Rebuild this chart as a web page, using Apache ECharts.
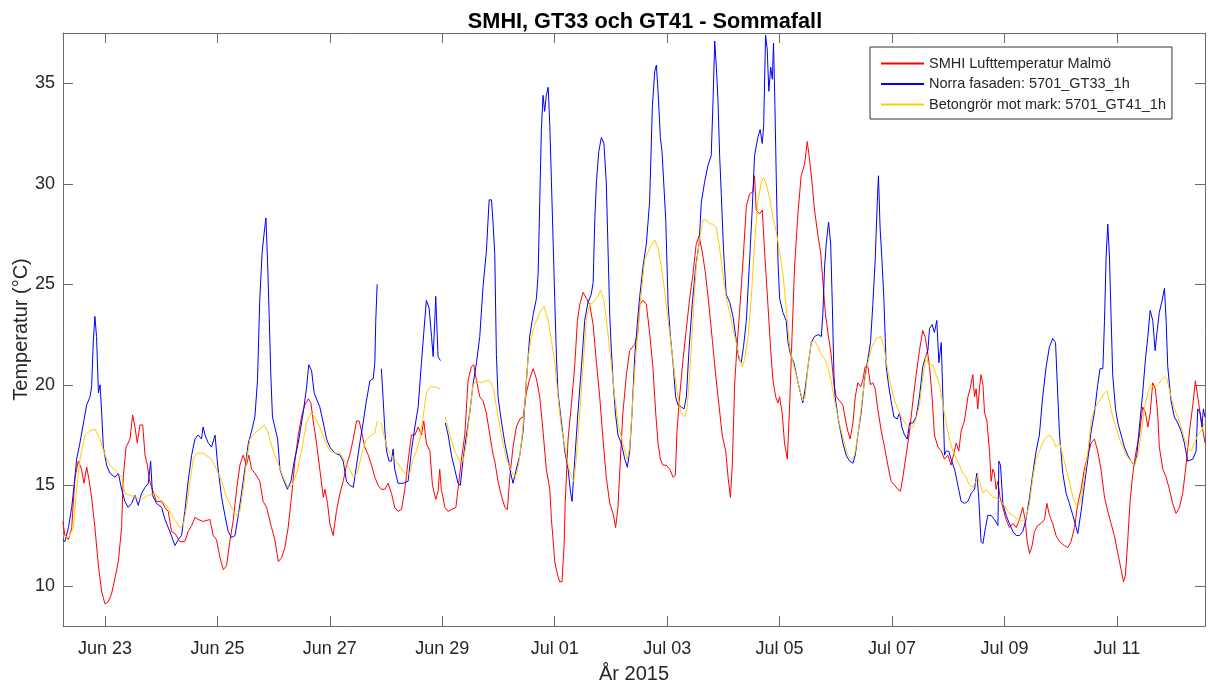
<!DOCTYPE html>
<html>
<head>
<meta charset="utf-8">
<title>SMHI, GT33 och GT41 - Sommafall</title>
<script src="https://cdn.jsdelivr.net/npm/echarts@6.0.0/dist/echarts.min.js"></script>
<style>
  html, body { margin: 0; padding: 0; background: #fff; }
  #chart { width: 1208px; height: 688px; }
</style>
</head>
<body>
<div id="chart"></div>
<script>
// Time is given in hours counted from 2015-06-22 00:00.
const tickHours = [24, 72, 120, 168, 216, 264, 312, 360, 408, 456];
const tickLabels = ['Jun 23', 'Jun 25', 'Jun 27', 'Jun 29', 'Jul 01', 'Jul 03', 'Jul 05', 'Jul 07', 'Jul 09', 'Jul 11'];
const yTicks = [10, 15, 20, 25, 30, 35];
const seriesNames = ['SMHI Lufttemperatur Malmö', 'Norra fasaden: 5701_GT33_1h', 'Betongrör mot mark: 5701_GT41_1h'];

// SMHI air temperature, Malmö  [hour, °C]
const smhi = [
  [6.0,13.2],[6.9,12.5],[8.4,12.3],[9.8,12.9],[11.2,15.4],[12.6,16.2],[14.0,15.8],[15.0,15.1],[16.2,15.9],[17.3,15.2],[18.3,14.4],[19.7,12.9],[21.2,11.0],[22.6,9.7],[24.0,9.1],[25.4,9.2],[26.8,9.6],[28.3,10.4],[29.7,11.2],[31.1,12.9],[31.8,15.4],[33.0,16.9],[34.7,17.3],[35.8,18.5],[36.8,17.9],[37.8,17.1],[38.9,18.0],[40.1,18.0],[41.1,16.5],[42.1,16.0],[42.9,15.3],[43.9,14.9],[46.0,14.2],[48.2,14.2],[49.6,13.9],[51.0,13.7],[52.4,12.7],[53.9,12.6],[56.0,12.2],[58.1,12.2],[59.5,12.7],[61.0,13.0],[62.4,13.4],[63.8,13.3],[65.9,13.2],
  [68.8,13.3],[70.2,12.5],[71.6,12.3],[73.1,11.4],[74.5,10.8],[75.9,11.0],[77.3,12.2],[78.8,13.3],[80.2,14.8],[81.6,16.0],[83.0,16.5],[84.4,16.0],[85.4,16.5],[86.6,15.8],[88.0,15.6],[90.1,15.2],[91.5,14.2],[93.0,13.9],[95.1,12.9],[96.5,12.3],[98.0,11.2],[99.4,11.4],[100.8,11.9],[102.2,12.9],[103.6,14.4],[105.1,16.2],[106.5,17.5],[107.9,18.4],[109.3,19.0],[110.8,19.3],[111.9,19.1],[112.9,18.2],[114.3,17.1],[115.7,15.8],[117.2,14.4],[117.9,14.8],[119.0,14.1],[120.0,13.1],[121.4,12.5],[122.8,13.7],[124.3,14.6],[125.7,15.2],[127.1,16.0],
  [128.5,16.5],[130.0,17.3],[131.4,18.2],[132.5,18.2],[133.5,17.7],[134.9,16.9],[136.4,16.5],[137.8,16.0],[139.2,15.4],[140.6,15.0],[142.0,14.8],[143.5,14.8],[144.9,15.1],[146.3,14.6],[147.7,13.9],[149.1,13.7],[150.6,13.8],[152.0,14.8],[153.4,16.2],[154.8,17.5],[156.3,17.5],[157.7,17.9],[159.1,17.5],[160.1,18.2],[161.2,17.1],[162.7,16.7],[163.8,15.0],[165.2,14.3],[166.2,14.7],[166.9,15.8],[167.6,14.8],[169.1,13.9],[170.5,13.7],[171.9,13.8],[173.8,13.9],[174.7,14.8],[176.2,16.3],[177.6,17.5],[179.0,20.2],[180.4,20.9],[181.4,21.0],[182.6,20.2],[184.0,19.4],[185.4,19.2],[186.8,18.6],[188.3,17.5],[189.7,16.5],
  [190.4,16.2],[191.8,15.2],[193.2,14.5],[194.7,13.9],[195.8,13.8],[196.8,15.4],[198.2,16.9],[199.6,17.9],[201.1,18.3],[202.5,18.4],[203.9,19.6],[205.3,20.3],[206.8,20.8],[208.2,20.3],[209.6,19.4],[211.0,17.7],[212.4,15.8],[213.9,14.8],[214.6,13.3],[215.3,12.3],[216.0,11.2],[217.1,10.6],[218.1,10.2],[219.1,10.2],[220.0,12.0],[220.5,14.2],[221.7,17.3],[223.1,19.0],[224.5,20.9],[225.7,23.2],[226.7,24.0],[228.1,24.6],[229.5,24.3],[230.9,24.0],[232.4,23.0],[233.8,21.1],[235.2,19.4],[236.6,17.3],[238.0,15.4],[239.5,14.1],[240.9,13.6],[242.0,12.9],[243.0,13.9],[244.2,16.7],[245.1,18.6],[246.6,20.5],[248.0,21.7],[250.1,22.0],[251.5,22.6],
  [252.3,24.0],[253.7,24.2],[255.1,24.0],[256.5,22.6],[257.9,20.9],[259.1,18.6],[260.1,17.1],[261.1,16.3],[262.2,16.0],[263.6,16.0],[265.1,15.8],[266.5,15.4],[267.5,15.5],[268.2,17.7],[269.3,19.4],[270.8,21.3],[272.2,22.8],[273.6,24.3],[275.0,25.5],[276.4,27.0],[277.6,27.4],[279.0,26.6],[280.4,25.5],[281.8,24.0],[283.3,22.2],[284.7,20.5],[286.1,19.0],[287.5,17.5],[289.0,16.7],[290.0,15.4],[291.0,14.4],[291.8,16.0],[292.8,20.0],[293.8,21.9],[294.9,23.6],[296.4,26.2],[297.8,28.9],[299.2,29.5],[300.6,29.6],[301.3,30.4],[302.0,28.7],[303.5,28.5],[304.6,28.7],[305.6,26.6],[307.0,24.0],[308.2,21.7],[309.2,20.2],[310.3,19.4],[311.3,19.1],[312.0,19.4],[313.1,18.6],
  [314.1,17.1],[315.3,16.3],[316.3,19.0],[317.3,22.4],[318.4,25.9],[319.8,28.5],[321.2,30.4],[322.7,31.0],[323.8,32.1],[324.8,31.2],[325.8,30.1],[326.9,28.7],[328.4,27.4],[329.5,26.6],[330.5,25.1],[331.5,23.6],[332.6,22.6],[334.0,21.5],[335.2,20.0],[336.2,19.4],[337.6,19.2],[339.0,19.0],[340.2,18.2],[341.1,17.7],[342.1,17.3],[343.3,18.1],[344.3,19.4],[345.4,20.1],[346.6,19.9],[347.5,20.2],[348.5,20.9],[349.7,20.9],[350.8,20.0],[351.8,20.1],[352.8,19.8],[353.9,18.8],[355.4,17.7],[356.8,16.9],[358.2,16.0],[359.6,15.2],[361.1,15.0],[362.5,14.8],[363.6,14.7],[364.6,15.4],[366.0,16.5],[367.5,17.7],[368.9,19.2],[370.3,20.5],[371.7,21.7],[373.1,22.7],[374.1,22.4],[375.3,21.5],
  [376.0,20.9],[377.1,19.4],[378.1,17.5],[379.6,16.9],[381.0,16.7],[382.4,16.3],[383.8,16.5],[385.2,16.0],[386.2,16.5],[387.4,17.1],[388.5,16.7],[389.5,17.7],[390.9,18.2],[392.4,19.4],[393.3,19.8],[394.5,20.5],[395.2,19.4],[395.9,19.8],[396.6,18.8],[397.3,19.8],[398.0,20.5],[398.8,20.0],[399.5,18.6],[400.5,18.2],[401.6,16.7],[402.3,15.2],[403.0,15.8],[403.7,15.6],[404.4,14.8],[405.2,15.2],[406.1,14.4],[407.3,13.9],[408.7,13.3],[410.1,12.9],[411.6,13.1],[413.0,12.9],[414.4,13.3],[415.8,13.9],[416.8,13.3],[417.7,12.2],[418.7,11.6],[419.8,12.0],[420.8,12.7],[422.2,13.0],[423.6,13.1],[425.1,13.3],[426.1,14.1],[427.2,13.5],[428.6,13.1],[430.0,12.5],
  [431.5,12.2],[433.6,12.0],[435.0,11.9],[436.4,12.2],[437.9,12.9],[439.3,14.1],[440.7,14.8],[442.1,15.8],[443.6,16.5],[445.0,17.1],[446.4,17.3],[447.8,16.7],[449.2,15.8],[450.7,14.4],[452.1,13.7],[453.5,13.1],[454.9,12.5],[456.4,11.6],[457.8,10.8],[458.8,10.2],[459.6,10.5],[460.6,12.2],[461.6,14.2],[462.8,15.6],[464.2,16.7],[465.6,17.5],[467.0,18.9],[468.2,18.6],[469.2,17.9],[470.2,18.6],[471.3,20.1],[472.4,19.8],[473.4,18.6],[474.1,16.9],[475.6,15.8],[477.0,15.4],[478.4,14.8],[479.8,14.1],[481.2,13.6],[482.7,13.9],[484.1,14.6],[485.5,16.0],[487.0,17.7],[488.4,19.0],[489.5,20.2],[490.5,19.4],[491.5,18.6],[492.3,18.0],[493.6,17.1]
];

// North facade sensor 5701_GT33  [hour, °C]
const gt33 = [
  [6.0,12.3],[6.9,12.2],[8.4,12.9],[9.8,13.9],[11.2,15.4],[11.9,16.3],[13.3,17.1],[14.8,18.1],[16.2,19.0],[17.6,19.4],[18.3,19.9],[19.0,22.1],[19.7,23.4],[20.4,22.4],[21.2,19.6],[21.9,20.0],[22.6,18.6],[23.3,16.9],[24.7,16.0],[26.1,15.6],[28.3,15.4],[29.7,15.6],[31.1,14.8],[32.5,14.2],[33.9,13.9],[35.4,14.1],[36.8,14.5],[38.2,14.0],[39.6,14.6],[41.1,14.9],[42.5,15.1],[43.5,16.2],[44.3,14.5],[46.0,14.1],[48.2,13.9],[49.6,13.3],[51.7,12.7],[53.9,12.0],[55.3,12.3],[56.7,12.5],[58.1,13.7],[59.5,15.2],[61.0,16.5],[62.4,17.3],[63.8,17.5],[65.2,17.3],[65.9,17.9],
  [66.7,17.5],[68.1,17.1],[69.5,16.9],[71.0,17.5],[72.1,16.0],[73.8,14.4],[75.2,13.5],[76.6,12.7],[78.0,12.4],[79.5,12.5],[80.9,13.5],[82.3,14.6],[83.7,15.8],[85.2,17.1],[86.6,17.7],[88.0,18.4],[89.1,20.2],[90.1,24.3],[91.1,26.6],[92.0,27.6],[92.7,28.3],[93.4,26.2],[94.1,23.4],[94.8,20.5],[95.5,18.4],[96.5,17.9],[97.7,17.3],[98.7,15.8],[100.1,15.3],[101.9,14.8],[103.4,15.2],[104.8,16.2],[106.5,17.1],[108.6,18.6],[110.0,19.8],[111.0,21.0],[112.2,20.7],[113.3,19.6],[114.3,19.3],[115.7,18.9],[117.2,18.1],[118.6,17.3],[120.0,16.9],[122.1,16.6],[124.3,16.5],[125.7,16.2],[127.1,15.2],
  [128.5,15.0],[130.0,14.9],[131.4,16.0],[132.8,17.1],[134.2,18.1],[135.6,19.2],[137.1,20.2],[138.5,20.3],[139.2,21.1],[139.6,23.2],[140.2,25.0],[141.1,null],[142.0,20.8],[142.7,19.4],[143.5,17.7],[144.2,16.7],[145.3,16.2],[146.3,16.2],[147.0,16.8],[147.7,15.8],[149.1,15.1],[151.3,15.1],[153.4,15.2],[154.8,16.7],[156.3,17.9],[157.7,18.9],[159.1,21.1],[160.1,22.6],[161.2,24.2],[162.4,23.8],[163.4,22.4],[164.1,21.4],[164.8,23.2],[165.2,24.4],[165.8,22.6],[166.2,21.4],[167.2,21.2],[168.2,null],[169.3,18.1],[170.5,17.5],[171.9,16.5],[173.3,15.8],[174.7,15.1],[175.7,15.0],[176.9,16.3],[178.3,17.5],[179.7,18.6],[181.1,20.0],[182.6,21.1],[184.0,22.4],[185.4,24.9],[186.8,26.6],[188.0,29.2],[189.0,29.2],[189.7,28.0],
  [190.4,26.5],[191.1,21.5],[191.8,19.4],[193.2,18.2],[194.7,17.1],[196.1,16.3],[197.2,15.6],[198.2,15.1],[199.6,15.8],[201.1,16.5],[202.5,17.7],[203.9,20.2],[205.3,22.4],[206.8,23.5],[208.2,24.3],[208.9,25.5],[209.6,29.1],[210.3,32.7],[211.0,34.4],[211.7,33.6],[212.4,34.4],[213.2,34.8],[213.9,32.9],[214.6,30.1],[215.3,27.2],[216.0,24.3],[216.7,21.5],[217.4,19.6],[218.8,18.2],[220.3,16.7],[221.7,15.8],[222.8,14.6],[223.4,14.2],[224.5,16.2],[225.9,18.6],[227.4,20.9],[228.8,23.2],[230.2,24.1],[231.6,24.5],[232.4,25.1],[233.1,28.2],[233.8,30.1],[234.8,31.6],[235.9,32.3],[237.0,32.0],[238.0,30.1],[238.7,27.0],[239.5,23.4],[240.2,21.7],[240.9,20.2],[241.9,18.6],[243.0,17.5],[244.4,17.1],[245.9,16.3],[247.0,15.9],[248.0,16.7],[249.0,18.6],[250.1,21.3],[251.5,23.4],
  [252.3,24.4],[253.7,25.9],[255.1,27.0],[256.5,29.1],[257.7,33.9],[258.7,35.6],[259.4,35.9],[260.1,34.6],[261.1,32.3],[261.8,31.6],[262.5,31.6],[263.4,28.2],[264.4,24.0],[265.4,22.4],[266.5,21.1],[267.6,19.4],[268.6,19.0],[270.0,18.9],[271.2,18.8],[272.2,19.4],[273.3,21.7],[274.7,24.0],[276.2,25.9],[277.6,27.0],[278.6,29.1],[280.0,30.1],[281.4,30.9],[282.8,31.4],[283.6,34.2],[284.3,37.1],[285.0,35.8],[285.7,34.1],[286.4,31.4],[287.1,29.5],[288.1,26.6],[289.2,24.5],[290.7,24.1],[292.1,23.4],[293.5,22.2],[294.6,21.3],[295.6,21.1],[296.6,21.9],[297.8,23.2],[299.2,26.2],[300.3,28.7],[301.3,31.4],[302.7,32.3],[303.7,32.7],[304.6,32.0],[305.2,32.9],[306.0,37.4],[306.7,36.7],[307.4,34.6],[308.2,35.8],[308.9,35.2],[309.4,37.0],[310.0,33.9],[310.6,30.1],[311.3,26.2],[312.0,24.3],[313.4,23.6],
  [314.8,23.2],[315.6,22.1],[316.7,21.5],[318.1,21.1],[319.5,20.3],[320.9,19.6],[321.9,19.1],[322.9,19.8],[324.1,20.9],[325.5,22.1],[326.9,22.4],[328.4,22.5],[329.8,22.4],[330.5,23.6],[331.2,25.9],[331.9,27.0],[332.9,28.1],[333.8,27.0],[334.5,24.0],[335.2,20.5],[335.7,19.4],[336.9,18.4],[338.0,17.7],[339.0,17.1],[340.4,16.5],[341.9,16.2],[343.3,16.1],[344.3,16.5],[345.4,17.5],[346.8,18.6],[348.3,20.3],[349.7,21.3],[350.8,22.1],[351.8,24.0],[352.8,26.2],[353.7,29.1],[354.2,30.4],[354.9,27.8],[355.7,26.2],[356.5,24.3],[357.5,20.9],[358.5,20.0],[359.6,19.2],[360.8,18.4],[362.2,18.3],[363.2,18.6],[364.2,17.9],[365.3,17.5],[366.5,17.3],[367.5,18.1],[368.9,18.1],[370.3,18.4],[371.7,19.4],[373.1,20.9],[374.6,21.5],[375.3,21.7],
  [376.0,22.8],[377.1,23.0],[378.1,22.6],[379.1,23.2],[380.0,21.1],[381.0,22.1],[381.7,19.4],[382.4,16.5],[383.1,16.7],[384.2,16.7],[385.2,16.3],[386.7,15.8],[388.1,15.0],[389.5,14.2],[390.9,14.1],[392.4,14.2],[393.8,14.6],[395.2,14.8],[396.2,15.6],[397.0,14.4],[398.0,12.2],[398.8,12.1],[399.9,12.9],[400.9,13.5],[402.3,13.5],[403.7,13.3],[405.2,13.0],[405.6,16.2],[406.3,16.0],[407.3,14.1],[408.7,13.5],[410.1,13.1],[411.6,12.7],[413.0,12.5],[414.4,12.5],[415.8,12.7],[417.2,13.3],[418.7,14.4],[420.1,15.6],[421.5,16.7],[422.9,17.5],[424.3,19.4],[425.8,20.9],[427.2,21.9],[428.6,22.3],[429.8,22.1],[430.7,19.6],
  [431.5,17.5],[432.9,15.6],[434.3,14.6],[435.7,14.1],[437.2,13.5],[438.6,12.9],[439.3,12.6],[440.7,13.7],[442.1,15.0],[443.6,16.3],[445.0,17.7],[446.4,18.6],[447.8,20.0],[448.8,20.8],[450.0,20.8],[450.7,23.2],[451.4,26.4],[452.1,28.0],[452.8,26.4],[453.5,23.4],[454.2,20.5],[455.4,18.8],[456.4,18.1],[457.8,17.5],[459.2,16.9],[460.6,16.5],[462.0,16.2],[463.5,16.0],[464.5,16.5],[465.6,17.9],[467.0,19.6],[468.2,21.3],[469.2,22.4],[470.2,23.7],[471.3,23.2],[472.3,21.7],[473.1,22.6],[474.1,23.6],[475.3,24.2],[476.3,24.8],[477.0,23.2],[477.7,20.9],[479.1,19.2],[480.5,18.4],[482.0,18.1],[483.4,17.7],[484.8,17.1],[486.2,16.2],[488.4,16.3],[489.8,16.7],[490.5,18.8],[491.5,18.6],[492.3,17.9],[492.9,18.8],[493.6,18.4]
];

// Concrete pipe towards ground, sensor 5701_GT41  [hour, °C]
const gt41 = [
  [6.0,12.5],[8.4,12.4],[10.5,12.9],[11.9,14.8],[13.3,16.3],[15.5,17.5],[17.6,17.7],[19.7,17.8],[21.9,17.3],[24.0,16.5],[26.1,16.0],[29.0,15.7],[31.1,15.4],[32.5,14.6],[34.7,14.5],[37.5,14.4],[39.6,14.3],[42.5,14.5],[45.3,14.6],[47.5,14.3],[50.3,14.0],[53.1,13.4],[56.0,12.9],[57.4,13.0],[58.8,13.9],[60.3,15.2],[61.7,16.3],[63.1,16.6],[65.9,16.6],
  [66.7,16.6],[69.5,16.3],[71.6,15.8],[73.8,15.2],[75.9,14.4],[78.0,13.9],[80.2,13.5],[81.6,13.7],[83.0,14.8],[84.4,16.2],[85.9,17.3],[88.0,17.6],[90.1,17.8],[92.0,18.0],[93.4,17.7],[94.8,17.1],[96.5,16.5],[98.2,16.0],[100.1,15.4],[102.2,14.9],[103.9,15.0],[105.8,15.6],[107.9,16.7],[110.0,18.1],[111.9,18.6],[113.6,18.4],[115.7,17.9],[117.9,17.2],[120.0,16.7],[122.1,16.6],[124.3,16.6],[126.4,16.2],
  [128.5,15.8],[130.2,15.4],[131.7,15.6],[133.5,16.5],[134.5,16.9],[135.6,17.3],[137.8,17.5],[139.2,17.6],[140.2,18.2],[141.1,null],[142.0,18.1],[143.5,17.3],[144.9,16.7],[146.3,16.5],[148.4,16.2],[150.6,15.8],[152.7,15.5],[154.1,15.6],[155.5,16.3],[157.0,16.7],[158.4,17.3],[159.8,18.4],[161.2,19.6],[162.7,19.9],[164.8,19.9],[166.9,19.8],[168.2,null],[169.3,18.4],[171.2,17.5],[173.3,16.7],[175.5,16.2],[176.9,16.2],[178.3,17.1],[179.7,18.6],[181.1,20.0],[182.6,20.2],[184.7,20.1],[186.8,20.2],[188.3,20.2],[190.0,19.8],
  [190.4,19.4],[191.8,18.4],[193.2,17.5],[195.4,16.3],[197.5,15.7],[199.2,15.4],[200.6,16.0],[202.1,17.5],[203.5,19.4],[204.6,21.3],[206.0,22.4],[207.5,23.0],[209.6,23.6],[211.4,23.9],[213.2,23.2],[214.6,22.2],[216.0,21.1],[217.4,19.4],[218.8,17.9],[220.3,16.9],[221.7,16.0],[223.1,15.4],[224.1,15.2],[225.2,16.3],[226.7,18.6],[228.1,20.9],[229.5,23.2],[230.9,24.0],[232.4,24.1],[233.8,24.3],[235.6,24.7],[237.0,24.2],[238.5,22.8],[239.9,21.3],[241.6,19.4],[243.3,17.9],[245.1,17.1],[247.0,16.3],[248.0,16.9],[249.4,19.4],[250.8,21.7],
  [252.3,23.8],[254.4,26.2],[256.5,26.8],[258.7,27.2],[260.1,26.8],[261.5,25.9],[262.9,24.7],[264.4,23.2],[265.8,21.9],[267.2,20.5],[268.6,19.4],[270.0,18.6],[271.5,18.4],[272.5,18.8],[273.6,20.5],[275.0,23.2],[276.4,25.9],[277.9,27.3],[279.3,28.2],[280.7,28.2],[282.1,28.0],[283.6,28.0],[285.0,27.8],[286.4,26.8],[287.8,25.5],[289.2,24.3],[290.7,23.6],[292.1,22.8],[293.5,22.1],[294.9,21.3],[296.1,20.9],[297.1,21.3],[298.5,22.4],[299.9,24.3],[301.3,27.0],[302.7,29.1],[304.2,30.1],[305.2,30.3],[306.3,30.0],[307.7,29.3],[309.2,28.3],[310.6,27.6],[312.0,26.6],[313.4,25.5],
  [314.1,24.7],[315.3,23.2],[316.3,21.9],[317.7,21.1],[319.1,20.5],[320.5,19.8],[321.9,19.2],[322.9,19.4],[324.1,20.9],[325.5,22.1],[326.9,22.2],[328.4,21.9],[329.8,21.5],[331.2,21.3],[332.6,20.9],[334.0,20.2],[335.5,19.2],[336.9,18.4],[338.3,17.7],[339.7,17.1],[341.1,16.5],[342.6,16.3],[344.0,16.5],[345.4,17.5],[346.8,18.8],[348.3,20.2],[349.7,21.1],[351.4,21.9],[353.2,22.3],[355.1,22.4],[356.5,21.9],[357.9,20.9],[359.4,20.0],[361.1,19.2],[362.5,18.8],[363.9,18.4],[365.6,18.1],[367.0,17.9],[368.9,17.9],[370.3,18.3],[371.7,19.0],[373.1,20.3],[374.6,21.5],[375.3,21.1],
  [376.0,20.9],[377.4,21.0],[378.8,20.5],[380.3,20.0],[381.7,19.0],[383.1,18.1],[384.5,17.3],[386.0,16.7],[387.4,16.3],[388.8,16.0],[390.2,15.6],[391.6,15.4],[393.1,15.0],[394.5,14.9],[395.9,15.2],[396.6,15.5],[397.3,15.2],[398.8,14.6],[400.2,14.8],[401.6,14.6],[403.0,14.4],[404.4,14.4],[405.9,14.2],[407.3,14.1],[409.4,13.7],[411.6,13.5],[413.7,13.3],[415.8,13.2],[417.2,13.4],[418.7,14.1],[420.1,15.4],[421.5,16.3],[422.9,16.7],[424.3,17.1],[425.8,17.4],[427.2,17.5],[428.6,17.3],[430.0,16.9],
  [431.5,17.1],[432.9,16.5],[434.3,15.8],[435.7,15.2],[437.2,14.4],[438.6,14.0],[439.7,14.0],[440.7,14.3],[442.1,15.4],[443.6,16.7],[445.0,18.2],[446.4,18.8],[447.8,19.1],[449.2,19.3],[450.7,19.6],[451.7,19.7],[452.8,19.2],[454.2,18.4],[455.6,17.9],[457.1,17.3],[458.5,16.9],[459.9,16.5],[462.0,16.2],[463.5,16.0],[464.9,16.5],[466.3,17.5],[467.7,18.8],[469.2,19.6],[470.6,20.0],[472.0,19.8],[473.4,20.0],[474.8,20.2],[476.3,20.4],[477.3,20.3],[478.7,19.6],[480.5,18.8],[482.0,18.4],[483.4,17.9],[484.8,17.3],[486.2,16.9],[487.6,16.7],[489.1,17.1],[490.5,17.5],[491.9,17.7],[493.6,18.1]
];

const FONT = '"Liberation Sans", Arial, Helvetica, sans-serif';
const AXIS_COLOR = '#6b6b6b';
const TEXT_COLOR = '#262626';
const X_MIN = 6.08, X_MAX = 493.6;
const Y_MIN = 8, Y_MAX = 37.5;
const colors = ['#ff0000', '#0000ff', '#ffcc00'];
const datasets = [smhi, gt33, gt41];

function xAxisBase(position) {
  return {
    type: 'value', position: position, min: X_MIN, max: X_MAX,
    axisLine: { show: true, onZero: false, lineStyle: { color: AXIS_COLOR, width: 1 } },
    axisTick: { show: true, inside: true, length: 10, customValues: tickHours, lineStyle: { color: AXIS_COLOR, width: 1 } },
    splitLine: { show: false }
  };
}
function yAxisBase(position) {
  return {
    type: 'value', position: position, min: Y_MIN, max: Y_MAX,
    axisLine: { show: true, onZero: false, lineStyle: { color: AXIS_COLOR, width: 1 } },
    axisTick: { show: true, inside: true, length: 10, customValues: yTicks, lineStyle: { color: AXIS_COLOR, width: 1 } },
    splitLine: { show: false }
  };
}

const xBottom = Object.assign(xAxisBase('bottom'), {
  name: 'År 2015', nameLocation: 'middle', nameGap: 38,
  nameTextStyle: { fontFamily: FONT, fontSize: 20, color: TEXT_COLOR },
  axisLabel: {
    show: true, customValues: tickHours, margin: 14,
    fontFamily: FONT, fontSize: 18, color: TEXT_COLOR,
    formatter: function (v) { const i = tickHours.indexOf(Math.round(v)); return i >= 0 ? tickLabels[i] : ''; }
  }
});
const xTop = Object.assign(xAxisBase('top'), { axisLabel: { show: false } });
const yLeft = Object.assign(yAxisBase('left'), {
  name: 'Temperatur (°C)', nameLocation: 'middle', nameGap: 32, nameRotate: 90,
  nameMoveOverlap: false,
  nameTextStyle: { fontFamily: FONT, fontSize: 20, color: TEXT_COLOR },
  axisLabel: { show: true, customValues: yTicks, margin: 8, fontFamily: FONT, fontSize: 18, color: TEXT_COLOR }
});
const yRight = Object.assign(yAxisBase('right'), { axisLabel: { show: false } });

const chart = echarts.init(document.getElementById('chart'), null, { renderer: 'canvas' });
chart.setOption({
  animation: false,
  backgroundColor: '#ffffff',
  color: colors,
  title: {
    text: 'SMHI, GT33 och GT41 - Sommafall',
    left: 640, top: 6, textAlign: 'center',
    textStyle: { fontFamily: FONT, fontSize: 21.7, fontWeight: 'bold', color: '#000' }
  },
  grid: { left: 63, right: 3, top: 33, bottom: 62, containLabel: false, outerBoundsMode: 'none' },
  legend: {
    orient: 'vertical', left: 870, top: 47,
    data: seriesNames,
    itemWidth: 43, itemHeight: 14, itemGap: 5.5,
    padding: [9, 6, 7, 10],
    backgroundColor: '#ffffff', borderColor: '#333333', borderWidth: 1,
    itemStyle: { opacity: 0 },
    textStyle: { fontFamily: FONT, fontSize: 14.5, color: TEXT_COLOR },
    selectedMode: false
  },
  xAxis: [xBottom, xTop],
  yAxis: [yLeft, yRight],
  series: seriesNames.map(function (name, i) {
    return {
      name: name, type: 'line', data: datasets[i],
      xAxisIndex: 0, yAxisIndex: 0,
      symbol: 'none', connectNulls: false, clip: true,
      lineStyle: { color: colors[i], width: 1 },
      itemStyle: { color: colors[i] },
      emphasis: { disabled: true }
    };
  })
});
</script>
</body>
</html>
